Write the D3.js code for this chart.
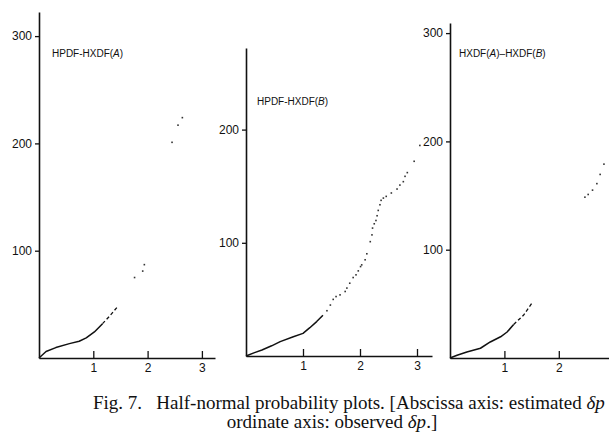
<!DOCTYPE html>
<html>
<head>
<meta charset="utf-8">
<script src="https://cdn.jsdelivr.net/npm/d3@7"></script>
<style>
  html, body { margin: 0; padding: 0; background: #fff; }
  svg { display: block; }
</style>
</head>
<body>
<svg id="chart" width="609" height="439"></svg>
<script>
// ---------- data ----------
const panelTitles = ["HPDF-HXDF(A)", "HPDF-HXDF(B)", "HXDF(A)\u2013HXDF(B)"];

const yTicksA = [100, 200, 300];
const yTicksB = [100, 200];
const yTicksC = [100, 200, 300];
const xTicksA = [1, 2, 3];
const xTicksB = [1, 2, 3];
const xTicksC = [1, 2];

// Panel A: dense (continuous) part, dashed part, isolated points
const solidA = [[0,0],[0.13,6],[0.31,9.7],[0.56,13.4],[0.74,15.6],[0.87,18.7],[1.02,24.3],[1.17,32]];
const dashA  = [[1.17,32],[1.30,39],[1.45,48]];
const dotsA  = [[1.76,75],[1.91,81],[1.94,87],[2.45,201],[2.56,217],[2.64,224]];

// Panel B
const solidB = [[0,0],[0.15,3],[0.28,5.3],[0.45,9],[0.6,12.7],[0.83,17],[1.0,20],[1.12,25],[1.24,30.4],[1.35,36]];
const dashB  = [];
const dotsB  = [[1.42,40],[1.48,45],[1.53,50],[1.58,52.5],[1.65,54],[1.74,57],[1.77,60],[1.82,64.3],[1.88,69.3],
                [1.93,71.7],[1.97,75.2],[2.01,79],[2.03,80.5],[2.09,85],[2.12,90.3],[2.18,101],[2.21,107],[2.22,113],
                [2.25,116.8],[2.28,119.7],[2.30,123.9],[2.32,128.6],[2.35,133.6],[2.37,137.5],[2.41,139.5],[2.46,141],
                [2.55,144],[2.65,147.5],[2.70,151],[2.76,154],[2.79,158.7],[2.83,162],[2.95,172],[3.05,186]];

// Panel C
const solidC = [[0,0],[0.13,2.5],[0.31,5.5],[0.56,9],[0.74,14.8],[0.93,19.6],[1.05,24],[1.17,31]];
const dashC  = [[1.17,31],[1.35,39.4],[1.5,50.2]];
const dotsC  = [[2.48,148.5],[2.54,151],[2.62,155],[2.70,161],[2.76,169.5],[2.83,179]];

const captionLine1 = ["Fig. 7.\u2002 Half-normal probability plots. [Abscissa axis: estimated ", "\u03b4p"];
const captionLine2 = ["ordinate axis: observed ", "\u03b4p", ".]"];

// ---------- layout ----------
const svg = d3.select("#chart");
const panels = [
  {title: panelTitles[0], yTicks: yTicksA, xTicks: xTicksA, solid: solidA, dash: dashA, dots: dotsA,
   x0: 39, x1: 215, xMax: (215-39)/54.3, y0: 358, y1: 12, yMax: (358-12)/1.073, tx: 52, ty: 57},
  {title: panelTitles[1], yTicks: yTicksB, xTicks: xTicksB, solid: solidB, dash: dashB, dots: dotsB,
   x0: 246, x1: 432, xMax: (432-246)/57, y0: 356, y1: 48, yMax: (356-48)/1.132, tx: 257, ty: 105},
  {title: panelTitles[2], yTicks: yTicksC, xTicks: xTicksC, solid: solidC, dash: dashC, dots: dotsC,
   x0: 450, x1: 625, xMax: (625-450)/54.4, y0: 358, y1: 23, yMax: (358-23)/1.083, tx: 459, ty: 57}
];

const sans = "'Liberation Sans', Arial, Helvetica, sans-serif";

panels.forEach(p => {
  const x = d3.scaleLinear().domain([0, p.xMax]).range([p.x0, p.x1]);
  const y = d3.scaleLinear().domain([0, p.yMax]).range([p.y0, p.y1]);
  const g = svg.append("g");

  // x axis (ticks pointing up, inside)
  const gx = g.append("g").attr("transform", `translate(0,${p.y0})`)
    .call(d3.axisBottom(x).tickValues(p.xTicks).tickSizeInner(-7).tickSizeOuter(0).tickPadding(7).tickFormat(d3.format("d")));
  // y axis (ticks pointing left)
  const gy = g.append("g").attr("transform", `translate(${p.x0},0)`)
    .call(d3.axisLeft(y).tickValues(p.yTicks).tickSizeInner(4).tickSizeOuter(0).tickPadding(3).tickFormat(d3.format("d")));

  [gx, gy].forEach(a => {
    a.select(".domain").attr("stroke", "#111").attr("stroke-width", 1.6);
    a.selectAll(".tick line").attr("stroke", "#111").attr("stroke-width", 1.3);
    a.selectAll(".tick text").attr("fill", "#111").style("font-family", sans).style("font-size", "12px");
  });
  gx.selectAll(".tick text").attr("dy", "0.6em");

  // title, with the series letters in italics
  const t = g.append("text").attr("x", p.tx).attr("y", p.ty)
    .style("font-family", sans).style("font-size", "10px").attr("fill", "#111");
  const parts = p.title.split(/([AB])(?=\))/);
  parts.forEach(s => {
    if (s === "A" || s === "B") t.append("tspan").style("font-style", "italic").text(s);
    else t.append("tspan").text(s);
  });

  const line = d3.line().x(d => x(d[0])).y(d => y(d[1]));
  g.append("path").datum(p.solid).attr("d", line).attr("fill", "none")
    .attr("stroke", "#111").attr("stroke-width", 1.5).attr("stroke-linejoin", "round");
  if (p.dash.length) {
    g.append("path").datum(p.dash).attr("d", line).attr("fill", "none")
      .attr("stroke", "#111").attr("stroke-width", 1.3).attr("stroke-dasharray", "3.5,2.5");
  }
  g.selectAll("rect.dot").data(p.dots).join("rect").attr("class", "dot")
    .attr("x", d => x(d[0]) - 0.8).attr("y", d => y(d[1]) - 0.8)
    .attr("width", 1.6).attr("height", 1.6).attr("fill", "#333");
});

// caption
const serif = "'Liberation Serif', 'Times New Roman', Times, serif";
const c1 = svg.append("text").attr("x", 93).attr("y", 409)
  .style("font-family", serif).style("font-size", "19px").attr("fill", "#111");
c1.append("tspan").text(captionLine1[0]);
c1.append("tspan").style("font-style", "italic").text(captionLine1[1]);
const c2 = svg.append("text").attr("x", 332).attr("y", 428).attr("text-anchor", "middle")
  .style("font-family", serif).style("font-size", "19px").attr("fill", "#111");
c2.append("tspan").text(captionLine2[0]);
c2.append("tspan").style("font-style", "italic").text(captionLine2[1]);
c2.append("tspan").text(captionLine2[2]);
</script>
</body>
</html>
